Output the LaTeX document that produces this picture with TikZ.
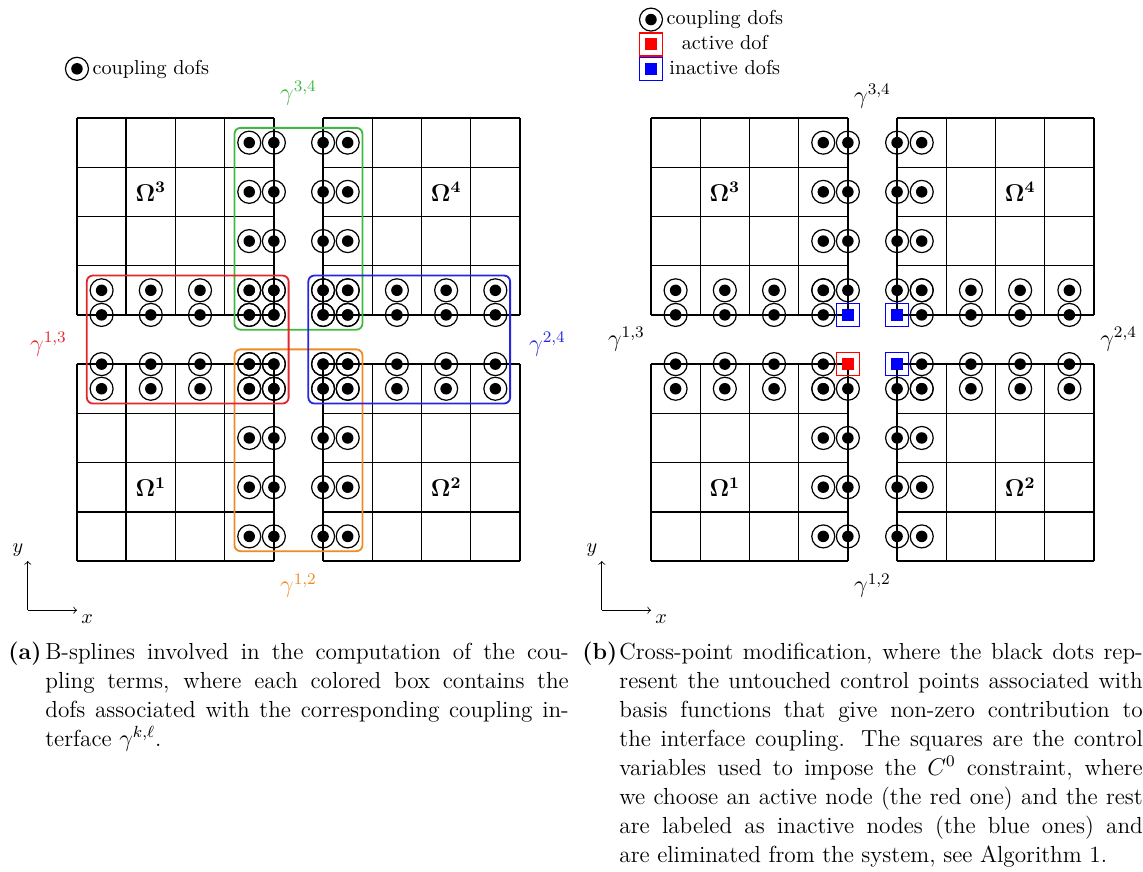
\documentclass[tikz,border=0pt]{standalone}
\definecolor{gcol}{RGB}{64,184,64}
\definecolor{ocol}{RGB}{240,138,36}
\definecolor{rcol}{RGB}{226,38,44}
\definecolor{bcol}{RGB}{38,38,222}
\newcommand\capfont{\fontsize{11.5}{14.3}\selectfont}
\tikzset{
  cdof/.pic={\draw[line width=0.6pt] (0,0) circle (0.2); \fill (0,0) circle (0.1);},
  sqdof/.pic={\draw[#1,line width=0.8pt] (-0.2,-0.2) rectangle (0.2,0.2); \fill[#1] (-0.1,-0.1) rectangle (0.1,0.1);}
}
\begin{document}
\begin{tikzpicture}[scale=0.856,
  grd/.style={line width=0.7pt},
  ibox/.style={line width=0.9pt,rounded corners=3pt},
  glab/.style={font=\large},
  leg/.style={text height=1.6ex,text depth=0.4ex},
  capt/.style={anchor=base west,inner sep=0pt,text width=259pt,align=justify,font={\capfont\normalbaselineskip=14.3pt}},
  capl/.style={anchor=base west,inner sep=0pt,font=\capfont\bfseries}]
\useasboundingbox (-1.564,-6.298) rectangle (21.658,11.398);
%% (a) B-splines of the coupling terms
\foreach \gx/\gy in {0/5,5/5,0/0,5/0} \draw[grd] (\gx,\gy) grid ({\gx+4},{\gy+4});
\draw[ibox,gcol] (3.2,4.7) rectangle (5.8,8.8);
\draw[ibox,ocol] (3.2,0.2) rectangle (5.8,4.3);
\draw[ibox,rcol] (0.2,3.2) rectangle (4.3,5.8);
\draw[ibox,bcol] (4.7,3.2) rectangle (8.8,5.8);
\foreach \cx/\cy/\sx/\sy in {4/5/-1/1,5/5/1/1,4/4/-1/-1,5/4/1/-1}
  \foreach \u in {0,0.5,1.5,2.5,3.5} \foreach \v in {0,0.5} {
    \pic at ({\cx+\sx*\u},{\cy+\sy*\v}) {cdof};
    \pic at ({\cx+\sx*\v},{\cy+\sy*\u}) {cdof};
  }
\node[glab] (om3a) at (1.5,7.5) {$\mathbf{\Omega^3}$};
\node[glab] (om4a) at (7.5,7.5) {$\mathbf{\Omega^4}$};
\node[glab] (om1a) at (1.5,1.5) {$\mathbf{\Omega^1}$};
\node[glab] (om2a) at (7.5,1.5) {$\mathbf{\Omega^2}$};
\node[glab,gcol] (g34a) at (4.5,9.5) {$\gamma^{3,4}$};
\node[glab,ocol] (g12a) at (4.5,-0.5) {$\gamma^{1,2}$};
\node[glab,rcol] (g13a) at (-0.58,4.4) {$\gamma^{1,3}$};
\node[glab,bcol] (g24a) at (9.56,4.4) {$\gamma^{2,4}$};
\pic at (0,10) {cdof};
\node[leg] (lga) at (1.5,10) {coupling dofs};
\coordinate (oa) at (-1,-1); \coordinate (xa) at (0,-1); \coordinate (ya) at (-1,0);
\draw[->] (oa) -- (xa) node[below right,inner sep=2pt] (xla) {$x$};
\draw[->] (oa) -- (ya) node[above left,inner sep=2pt] (yla) {$y$};
\node[capl] (cla) at (-1.40,-2.01) {\strut(a)};
\node[capt] (cta) at (-0.65,-2.01) {\capfont\strut B-splines involved in the computation of the cou-\linebreak
pling terms, where each colored box contains the\linebreak
dofs associated with the corresponding coupling in-\linebreak
terface $\gamma^{k,\ell}$.};
%% (b) cross-point modification
\begin{scope}[shift={(11.662,0)}]
\foreach \gx/\gy in {0/5,5/5,0/0,5/0} \draw[grd] (\gx,\gy) grid ({\gx+4},{\gy+4});
\foreach \cx/\cy/\sx/\sy in {4/5/-1/1,5/5/1/1,4/4/-1/-1,5/4/1/-1}
  \foreach \u in {0.5,1.5,2.5,3.5} \foreach \v in {0,0.5} {
    \pic at ({\cx+\sx*\u},{\cy+\sy*\v}) {cdof};
    \pic at ({\cx+\sx*\v},{\cy+\sy*\u}) {cdof};
  }
\pic at (4,5) {sqdof=blue};
\pic at (5,5) {sqdof=blue};
\pic at (4,4) {sqdof=red};
\pic at (5,4) {sqdof=blue};
\node[glab] (om3b) at (1.5,7.5) {$\mathbf{\Omega^3}$};
\node[glab] (om4b) at (7.5,7.5) {$\mathbf{\Omega^4}$};
\node[glab] (om1b) at (1.5,1.5) {$\mathbf{\Omega^1}$};
\node[glab] (om2b) at (7.5,1.5) {$\mathbf{\Omega^2}$};
\node[glab] (g34b) at (4.5,9.45) {$\gamma^{3,4}$};
\node[glab] (g12b) at (4.5,-0.5) {$\gamma^{1,2}$};
\node[glab] (g13b) at (-0.5,4.5) {$\gamma^{1,3}$};
\node[glab] (g24b) at (9.5,4.5) {$\gamma^{2,4}$};
\pic at (0,11) {cdof};
\pic at (0,10.5) {sqdof=red};
\pic at (0,10) {sqdof=blue};
\node[leg] (lgb1) at (1.5,11) {coupling dofs};
\node[leg] (lgb2) at (1.5,10.5) {active dof};
\node[leg] (lgb3) at (1.5,10) {inactive dofs};
\coordinate (ob) at (-1,-1); \coordinate (xb) at (0,-1); \coordinate (yb) at (-1,0);
\draw[->] (ob) -- (xb) node[below right,inner sep=2pt] (xlb) {$x$};
\draw[->] (ob) -- (yb) node[above left,inner sep=2pt] (ylb) {$y$};
\node[capl] (clb) at (-1.40,-2.01) {\strut(b)};
\node[capt] (ctb) at (-0.65,-2.01) {\capfont\strut Cross-point modification, where the black dots rep-\linebreak
resent the untouched control points associated with\linebreak
basis functions that give non-zero contribution to\linebreak
the interface coupling. The squares are the control\linebreak
variables used to impose the $C^0$ constraint, where\linebreak
we choose an active node (the red one) and the rest\linebreak
are labeled as inactive nodes (the blue ones) and\linebreak
are eliminated from the system, see Algorithm 1.};
\end{scope}
\end{tikzpicture}
\end{document}
